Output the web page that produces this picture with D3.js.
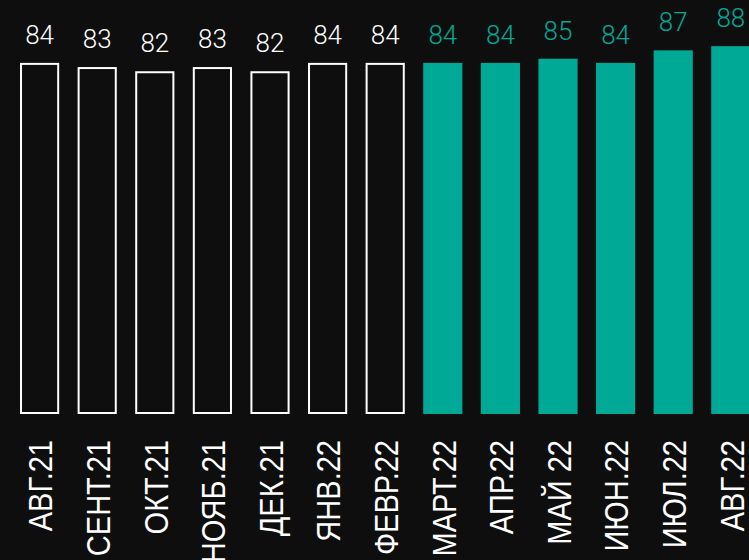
<!DOCTYPE html>
<html><head><meta charset="utf-8">
<script src="https://cdn.jsdelivr.net/npm/d3@7"></script>
<style>
html,body{margin:0;padding:0;background:#0e0e0e;}
svg{display:block;}
</style></head>
<body>
<svg id="chart" width="749" height="560"></svg>
<script>
const categories = ["АВГ.21","СЕНТ.21","ОКТ.21","НОЯБ.21","ДЕК.21","ЯНВ.22","ФЕВР.22","МАРТ.22","АПР.22","МАЙ 22","ИЮН.22","ИЮЛ.22","АВГ.22"];
const values = [84,83,82,83,82,84,84,84,84,85,84,87,88];
const outlined = [true,true,true,true,true,true,true,false,false,false,false,false,false];

const W = 749, H = 560;
const svg = d3.select("#chart");
svg.append("rect").attr("width",W).attr("height",H).attr("fill","#0e0e0e");

const teal = "#00a896";
const baseY = 414;
const x = d3.scaleBand().domain(categories).range([10.8, 759.6]).paddingInner(0.32).paddingOuter(0.16);
const y = d3.scaleLinear().domain([0, 100]).range([baseY, baseY - 418]);

const data = categories.map((c,i)=>({c, v: values[i], o: outlined[i]}));

svg.selectAll("rect.bar").data(data).join("rect")
  .attr("class","bar")
  .attr("x", d => d.o ? x(d.c)+1 : x(d.c))
  .attr("y", d => d.o ? y(d.v)+1 : y(d.v))
  .attr("width", d => d.o ? x.bandwidth()-2 : x.bandwidth())
  .attr("height", d => d.o ? baseY - y(d.v) - 2 : baseY - y(d.v))
  .attr("fill", d => d.o ? "none" : teal)
  .attr("stroke", d => d.o ? "#ffffff" : "none")
  .attr("stroke-width", 2);

svg.selectAll("text.val").data(data).join("text")
  .attr("class","val")
  .attr("x", d => x(d.c) + x.bandwidth()/2)
  .attr("y", d => y(d.v) - 19)
  .attr("text-anchor","middle")
  .attr("font-family","Roboto, sans-serif")
  .attr("font-weight", 300)
  .attr("font-size", 26)
  .attr("fill", d => d.o ? "#ffffff" : teal)
  .text(d => d.v);

svg.selectAll("text.cat").data(data).join("text")
  .attr("class","cat")
  .attr("transform", d => `translate(${x(d.c) + x.bandwidth()/2 + 1},440) rotate(-90) scale(0.88,1)`)
  .attr("dy","0.36em")
  .attr("text-anchor","end")
  .attr("font-family","'Liberation Sans Narrow', 'Arial Narrow', sans-serif")
  .attr("font-size", 33)
  .attr("fill","#ffffff")
  .text(d => d.c);
</script>
</body></html>
